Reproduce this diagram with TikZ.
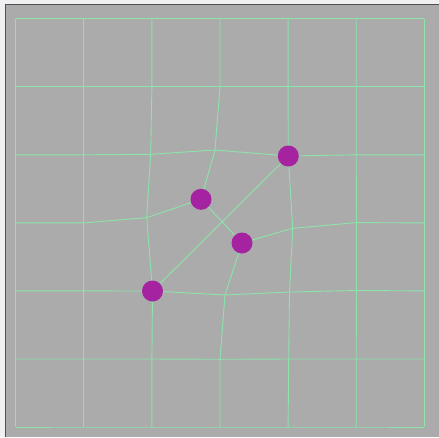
\documentclass[tikz,border=0pt]{standalone}
\usetikzlibrary{calc}
\definecolor{pagebg}{RGB}{240,240,242}
\definecolor{panelgray}{RGB}{171,171,171}
\definecolor{edgedark}{RGB}{80,80,80}
\definecolor{meshgreen}{RGB}{140,228,170}
\definecolor{dotpurple}{RGB}{165,35,160}
\tikzset{
  mesh/.style={draw=meshgreen, line width=0.9pt},
  dot/.style={circle, fill=dotpurple, draw=none, minimum size=21pt, inner sep=0pt}
}
\begin{document}
\begin{tikzpicture}[x=1pt,y=-1pt]
\useasboundingbox (0,0) rectangle (439,437);
\fill[pagebg] (0,0) rectangle (439,437);
\fill[panelgray] (5,4) rectangle (439,437);
\draw[edgedark, line width=1.2pt] (5.5,437) -- (5.5,4.5) -- (439,4.5);
% regular vertices
\foreach \i/\x in {0/15.7,1/83.8,2/151.9,3/220,4/288.1,5/356.2,6/424.3}{
  \foreach \j/\y in {0/18.7,1/86.75,2/154.8,3/222.9,4/290.9,5/359,6/427}{
    \coordinate (v-\i-\j) at (\x,\y);
  }
}
% deformed vertices
\coordinate (v-2-2) at (150.7,154.3);
\coordinate (v-3-2) at (215,150);
\coordinate (pA) at (288.3,156);
\coordinate (v-4-2) at (pA);
\coordinate (v-2-3) at (146.7,217.7);
\coordinate (pB) at (201,199.3);
\coordinate (pC) at (242,243);
\coordinate (v-4-3) at (292.7,228.3);
\coordinate (v-5-3) at (356.5,222.6);
\coordinate (pD) at (152.5,291);
\coordinate (v-2-4) at (pD);
\coordinate (v-3-4) at (225,295);
\coordinate (v-4-4) at (289.5,292);
\coordinate (v-5-4) at (356.5,290.5);
\coordinate (v-3-5) at (220,359.3);
\coordinate (v-4-5) at (288.7,359);
% rows
\foreach \j in {0,1,2,4,5,6}{
  \draw[mesh] (v-0-\j) -- (v-1-\j) -- (v-2-\j) -- (v-3-\j) -- (v-4-\j) -- (v-5-\j) -- (v-6-\j);
}
\draw[mesh] (v-0-3) -- (v-1-3) -- (v-2-3) -- (pB);
\draw[mesh] (pC) -- (v-4-3) -- (v-5-3) -- (v-6-3);
% columns
\foreach \i in {0,1,2,4,5,6}{
  \draw[mesh] (v-\i-0) -- (v-\i-1) -- (v-\i-2) -- (v-\i-3) -- (v-\i-4) -- (v-\i-5) -- (v-\i-6);
}
\draw[mesh] (v-3-0) -- (v-3-1) -- (v-3-2) -- (pB);
\draw[mesh] (pC) -- (v-3-4) -- (v-3-5) -- (v-3-6);
% links
\draw[mesh] (pB) -- (pC);
\draw[mesh] (pD) -- (pA);
% dots
\node[dot] (dA) at (pA) {};
\node[dot] (dB) at (pB) {};
\node[dot] (dC) at (pC) {};
\node[dot] (dD) at (pD) {};
\end{tikzpicture}
\end{document}
